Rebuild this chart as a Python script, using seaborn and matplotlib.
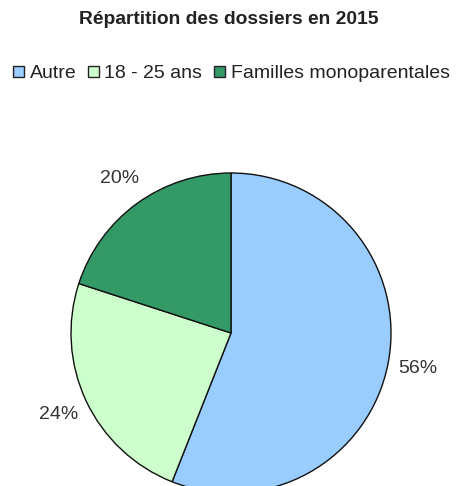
import matplotlib
matplotlib.use("Agg")
import matplotlib.pyplot as plt
import seaborn as sns
from matplotlib.patches import Patch

# Data
categories = ["Autre", "18 - 25 ans", "Familles monoparentales"]
shares = [56, 24, 20]
colors = ["#99ccff", "#ccffcc", "#339966"]

sns.set_theme(style="white")
plt.rcParams["font.family"] = ["Liberation Sans", "DejaVu Sans"]

W, H, DPI = 458, 486, 100
fig = plt.figure(figsize=(W / DPI, H / DPI), dpi=DPI)
ax = fig.add_axes([0, 0, 1, 1])

cx, cy, r = 231, 333, 160  # pixel centre and radius of the pie

wedges, texts, autotexts = ax.pie(
    shares, colors=colors, startangle=90, counterclock=False,
    autopct="%d%%", pctdistance=1.19,
    wedgeprops=dict(edgecolor="#111111", linewidth=1.0),
    textprops=dict(fontsize=14, color="#333333"),
)

ax.set_xlim(-cx / r, (W - cx) / r)
ax.set_ylim(-(H - cy) / r, cy / r)
ax.set_aspect("equal")
ax.axis("off")

fig.text(0.5, 1 - 19 / H, "Répartition des dossiers en 2015", ha="center", va="center",
         fontsize=13.9, fontweight="bold", color="#222222")

handles = [Patch(facecolor=c, edgecolor="#222222", linewidth=1.0) for c in colors]
fig.legend(handles, categories, loc="center", bbox_to_anchor=(0.505, 1 - 74 / H), ncol=3,
           frameon=False, fontsize=14, handlelength=0.55, handleheight=0.55,
           handletextpad=0.3, columnspacing=0.6, labelcolor="#222222",
           borderpad=0, borderaxespad=0)

fig.savefig("out.png", dpi=DPI)
